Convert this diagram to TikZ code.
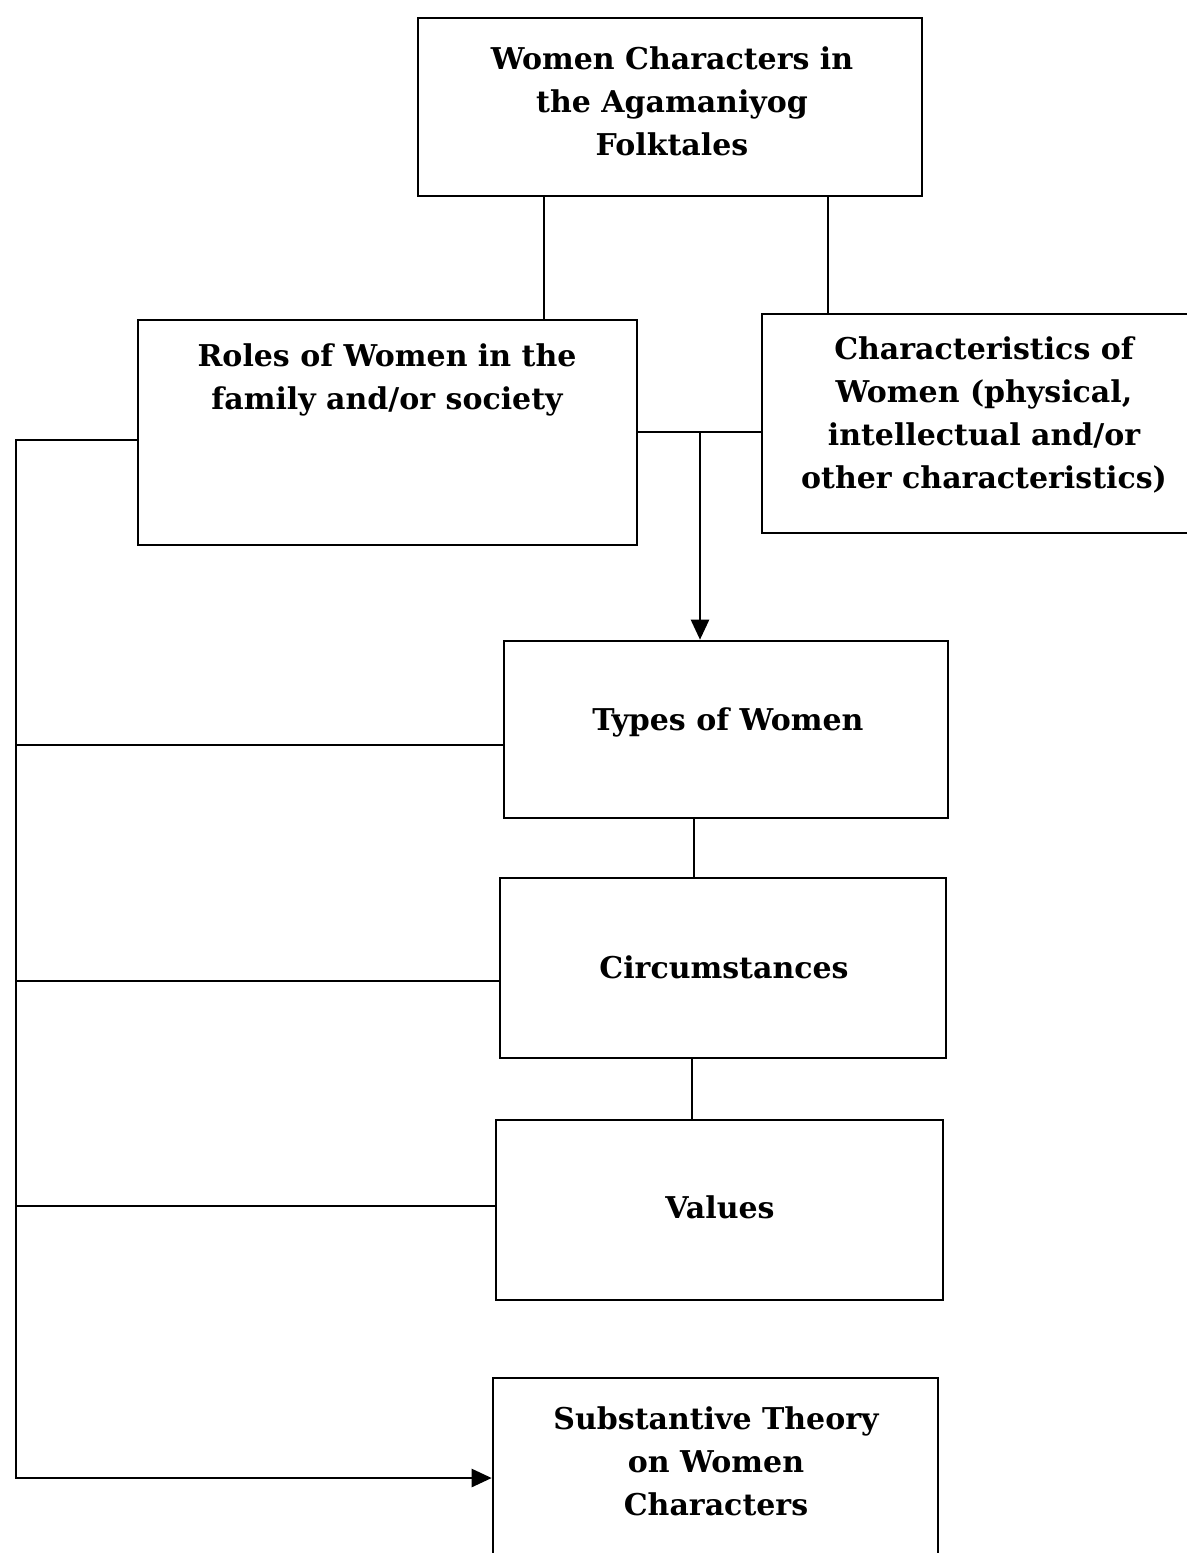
\documentclass[tikz,border=0pt]{standalone}
\usepackage{fontspec}
\setmainfont{DejaVu Serif}
\usetikzlibrary{fit,arrows.meta}
\tikzset{
  box/.style={draw, line width=1.3pt, inner sep=0pt},
  lbl/.style={align=center, inner sep=0pt, font=\bfseries\fontsize{15}{21.5}\selectfont},
  conn/.style={line width=1.25pt},
  arr/.style={conn, -{Triangle[length=10pt,width=9pt]}}
}
\begin{document}
\begin{tikzpicture}[x=0.5pt,y=-0.5pt]
\useasboundingbox[fill=white] (0,0) rectangle (1187,1553);
% boxes
\node[box, fit={(418,18) (922,196)}] (top) {};
\node[box, fit={(138,320) (637,545)}] (roles) {};
\node[box, fit={(762,314) (1210,533)}] (chars) {};
\node[box, fit={(504,641) (948,818)}] (types) {};
\node[box, fit={(500,878) (946,1058)}] (circ) {};
\node[box, fit={(496,1120) (943,1300)}] (values) {};
\node[box, fit={(493,1378) (938,1620)}] (subst) {};
% texts
\node[lbl] (ttop) at (672,101) {Women Characters in\\the Agamaniyog\\Folktales};
\node[lbl] (troles) at (387,380) {Roles of Women in the\\family and/or society};
\node[lbl] (tchars) at (984,415) {Characteristics of\\Women (physical,\\intellectual and/or\\other characteristics)};
\node[lbl] (ttypes) at (728,722) {Types of Women};
\node[lbl] (tcirc) at (724,967) {Circumstances};
\node[lbl] (tvalues) at (720,1207) {Values};
\node[lbl] (tsubst) at (716,1461) {Substantive Theory\\on Women\\Characters};
% connectors
\draw[conn] (544,0 |- top.south) -- (544,0 |- roles.north);
\draw[conn] (828,0 |- top.south) -- (828,0 |- chars.north);
\coordinate (jr) at (0,432);
\draw[conn] (roles.east |- jr) -- (chars.west |- jr);
\coordinate (j) at (700,432);
\draw[arr] (j) -- (types.north -| j);
\coordinate (sp) at (16,440);
\coordinate (sb) at (16,1478);
\draw[arr] (roles.west |- sp) -- (sp) -- (sb) -- (subst.west |- sb);
\draw[conn] (16,745) -- (types.west |- 0,745);
\draw[conn] (16,981) -- (circ.west |- 0,981);
\draw[conn] (16,1206) -- (values.west |- 0,1206);
\draw[conn] (694,0 |- types.south) -- (694,0 |- circ.north);
\draw[conn] (692,0 |- circ.south) -- (692,0 |- values.north);
\end{tikzpicture}
\end{document}
